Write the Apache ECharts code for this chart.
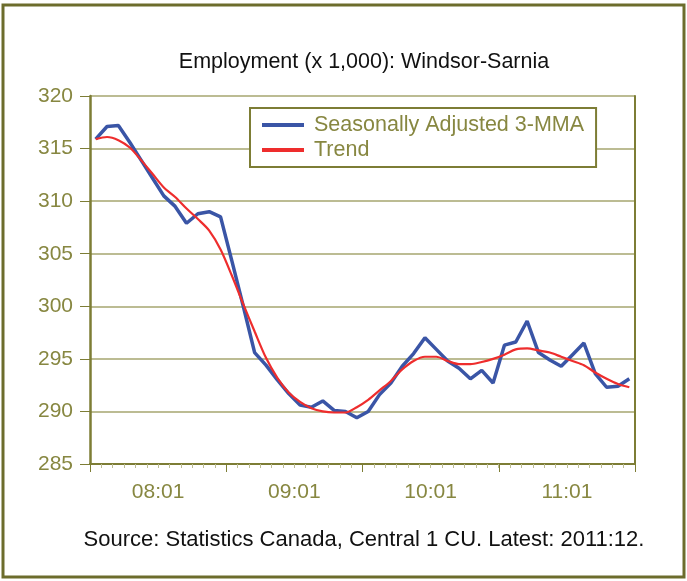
<!DOCTYPE html>
<html>
<head>
<meta charset="utf-8">
<title>Employment (x 1,000): Windsor-Sarnia</title>
<script src="https://cdn.jsdelivr.net/npm/echarts@6/dist/echarts.min.js"></script>
<style>
  html, body { margin: 0; padding: 0; background: #ffffff; }
  #chart { width: 687px; height: 581px; }
</style>
</head>
<body>
<div id="chart"></div>
<script>
// Year labels shown under the axis (one band of 12 months each)
const yearLabels = ['08:01', '09:01', '10:01', '11:01'];

// Monthly employment, thousands, 2008:01 .. 2011:12
const seasAdj3MMA = [
  315.9, 317.1, 317.2, 315.6, 313.9, 312.2, 310.5, 309.5, 307.9, 308.8, 309.0, 308.5,
  304.3, 300.0, 295.6, 294.4, 293.0, 291.7, 290.6, 290.4, 291.0, 290.1, 290.0, 289.4,
  290.0, 291.6, 292.7, 294.3, 295.5, 297.0, 295.9, 294.8, 294.1, 293.1, 293.9, 292.7,
  296.3, 296.6, 298.6, 295.6, 294.9, 294.3, 295.4, 296.5, 293.6, 292.3, 292.4, 293.1
];
const trend = [
  315.9, 316.1, 315.8, 315.1, 313.9, 312.6, 311.3, 310.4, 309.3, 308.3, 307.2, 305.4,
  302.9, 300.2, 297.6, 295.1, 293.2, 291.8, 290.9, 290.3, 290.0, 289.9, 289.9, 290.4,
  291.1, 292.0, 292.9, 294.0, 294.8, 295.2, 295.2, 294.8, 294.5, 294.5, 294.7, 295.0,
  295.4, 295.9, 296.0, 295.8, 295.6, 295.2, 294.8, 294.4, 293.7, 293.1, 292.6, 292.3
];

// Month categories: "08:01" .. "11:12"
const months = [];
yearLabels.forEach(function (y) {
  const yy = y.slice(0, 2);
  for (let m = 1; m <= 12; m++) months.push(yy + ':' + (m < 10 ? '0' + m : m));
});

const OLIVE_DARK = '#7d7d35';
const OLIVE_TEXT = '#878741';
const GRID_COLOR = '#bcbc93';
const FONT = '"Liberation Sans", Arial, sans-serif';

const chart = echarts.init(document.getElementById('chart'), null, { renderer: 'canvas' });

chart.setOption({
  animation: false,
  backgroundColor: '#ffffff',
  title: [
    {
      text: 'Employment (x 1,000): Windsor-Sarnia',
      left: 359, top: 46, textAlign: 'center',
      textStyle: { fontFamily: FONT, fontSize: 21.5, fontWeight: 'normal', color: '#111111' }
    },
    {
      text: 'Source: Statistics Canada, Central 1 CU. Latest: 2011:12.',
      left: 359, top: 524, textAlign: 'center',
      textStyle: { fontFamily: FONT, fontSize: 22, fontWeight: 'normal', color: '#111111' }
    }
  ],
  graphic: [
    {
      type: 'rect',
      shape: { x: 3, y: 5, width: 681, height: 572 },
      style: { fill: 'none', stroke: '#6c6c2c', lineWidth: 3 },
      silent: true
    }
  ],
  legend: {
    orient: 'vertical',
    left: 250, top: 108,
    padding: [6, 12, 6, 12],
    itemGap: 3,
    itemWidth: 42,
    itemHeight: 4,
    selectedMode: false,
    backgroundColor: '#ffffff',
    borderColor: OLIVE_DARK,
    borderWidth: 2,
    textStyle: { fontFamily: FONT, fontSize: 21.5, color: OLIVE_TEXT, lineHeight: 22, padding: [0, 0, 0, 5] },
    data: [
      { name: 'Seasonally Adjusted 3-MMA', icon: 'rect' },
      { name: 'Trend', icon: 'rect' }
    ]
  },
  grid: { left: 90, right: 52, top: 96, bottom: 117, containLabel: false },
  xAxis: [
    {
      type: 'category',
      data: months,
      position: 'bottom',
      boundaryGap: true,
      axisLine: { show: true, lineStyle: { color: OLIVE_DARK, width: 2 } },
      axisTick: { show: true, interval: 0, length: 4, lineStyle: { color: GRID_COLOR, width: 1 } },
      axisLabel: { show: false },
      splitLine: { show: false }
    },
    {
      type: 'category',
      data: yearLabels,
      position: 'bottom',
      boundaryGap: true,
      axisLine: { show: false },
      axisTick: { show: true, length: 8, lineStyle: { color: OLIVE_DARK, width: 1 } },
      axisLabel: { show: true, margin: 18, fontFamily: FONT, fontSize: 21, color: OLIVE_TEXT },
      splitLine: { show: false }
    }
  ],
  yAxis: [
    {
      type: 'value',
      min: 285, max: 320, interval: 5,
      axisLine: { show: true, lineStyle: { color: OLIVE_DARK, width: 2.5 } },
      axisTick: { show: true, length: 10, lineStyle: { color: OLIVE_DARK, width: 1 } },
      axisLabel: { margin: 17, fontFamily: FONT, fontSize: 21, color: OLIVE_TEXT },
      splitLine: { show: true, lineStyle: { color: GRID_COLOR, width: 2 } }
    },
    {
      type: 'value',
      position: 'right',
      min: 285, max: 320, interval: 5,
      axisLine: { show: true, lineStyle: { color: OLIVE_DARK, width: 2 } },
      axisTick: { show: false },
      axisLabel: { show: false },
      splitLine: { show: false }
    }
  ],
  series: [
    {
      name: 'Seasonally Adjusted 3-MMA',
      type: 'line',
      data: seasAdj3MMA,
      xAxisIndex: 0, yAxisIndex: 0,
      showSymbol: false, symbol: 'none',
      color: '#3a55a6',
      lineStyle: { color: '#3a55a6', width: 3.5 },
      z: 3
    },
    {
      name: 'Trend',
      type: 'line',
      data: trend,
      xAxisIndex: 0, yAxisIndex: 0,
      showSymbol: false, symbol: 'none',
      smooth: 0.3,
      color: '#ee2d2d',
      lineStyle: { color: '#ee2d2d', width: 2.2 },
      z: 4
    }
  ]
});
</script>
</body>
</html>
